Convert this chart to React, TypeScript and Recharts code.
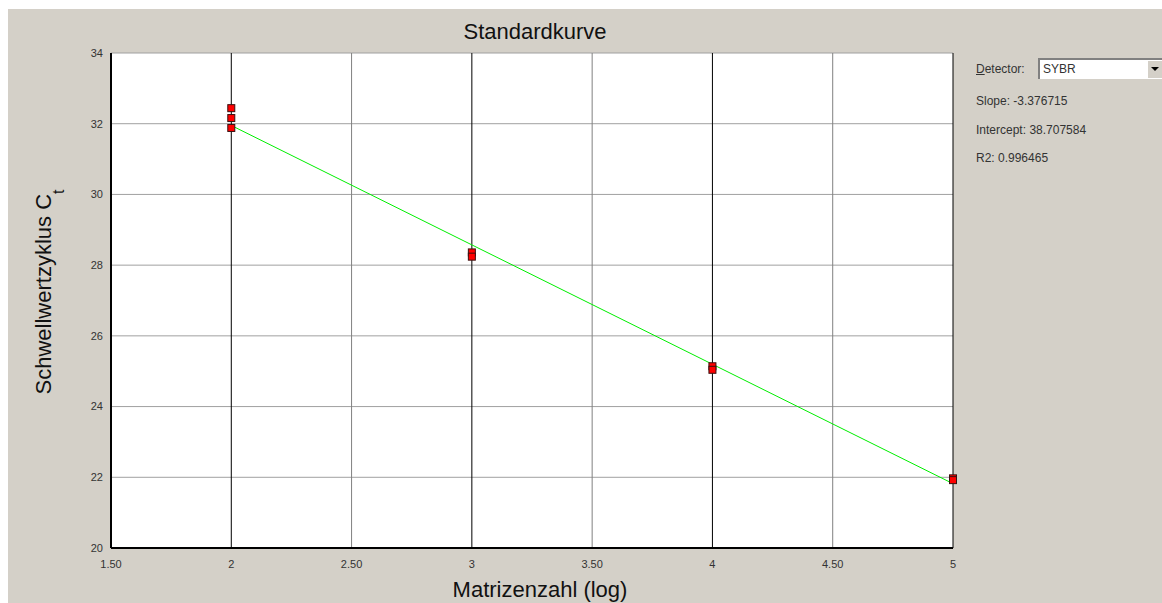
import React from "react";
import {
  ComposedChart,
  Scatter,
  XAxis,
  YAxis,
  CartesianGrid,
  ReferenceLine,
} from "recharts";

// x-axis: log of template count, y-axis: threshold cycle
const xTicks = [1.5, 2, 2.5, 3, 3.5, 4, 4.5, 5];
const xTickLabels = ["1.50", "2", "2.50", "3", "3.50", "4", "4.50", "5"];
const yTicks = [20, 22, 24, 26, 28, 30, 32, 34];
const majorGridX = [2, 3, 4, 5];
const minorGridX = [2.5, 3.5, 4.5];

// standards (replicates)
const standardLog = [2, 2, 2, 3, 3, 4, 4, 5, 5];
const standardCt = [32.44, 32.16, 31.88, 28.36, 28.24, 25.14, 25.04, 21.97, 21.92];

// regression line end points
const fitLog = [2, 5];
const fitCt = [31.95, 21.82];

const detector = "SYBR";
const slope = "-3.376715";
const intercept = "38.707584";
const r2 = "0.996465";

const FONT = "'Liberation Sans', Arial, sans-serif";

const points = standardLog.map((x, i) => ({ x, y: standardCt[i] }));
const fitLine = fitLog.map((x, i) => ({ x, y: fitCt[i] }));

const SquareMarker = (props: any) => {
  const { cx, cy } = props;
  if (cx == null || cy == null) return <g />;
  return (
    <rect
      x={cx - 3.5}
      y={cy - 3.5}
      width={7}
      height={7}
      fill="#ff0000"
      stroke="#3a1010"
      strokeWidth={1}
    />
  );
};

const YLabel = () => (
  <text
    x={51}
    y={292}
    transform="rotate(-90, 51, 292)"
    textAnchor="middle"
    fontFamily={FONT}
    fontSize={22}
    fill="#111"
  >
    Schwellwertzyklus C
    <tspan dy={13} fontSize={16}>
      t
    </tspan>
  </text>
);

const XLabel = () => (
  <text
    x={540}
    y={597}
    textAnchor="middle"
    fontFamily={FONT}
    fontSize={22}
    fill="#111"
  >
    Matrizenzahl (log)
  </text>
);

const tickStyle = { fontSize: 11, fill: "#333", fontFamily: FONT };

export default function App() {
  return (
    <div
      style={{
        position: "absolute",
        left: 0,
        top: 0,
        width: 1162,
        height: 603,
        background: "#ffffff",
        overflow: "hidden",
        fontFamily: FONT,
      }}
    >
      <div
        style={{
          position: "absolute",
          left: 8,
          top: 9,
          width: 1154,
          height: 594,
          background: "#d4d0c8",
        }}
      />
      <div style={{ position: "absolute", left: 0, top: 0 }}>
        <ComposedChart
          width={1162}
          height={603}
          margin={{ top: 53, right: 209, bottom: 0, left: 0 }}
        >
          <CartesianGrid
            vertical={false}
            stroke="#a0a0a0"
            fill="#ffffff"
            fillOpacity={1}
          />
          <XAxis
            type="number"
            dataKey="x"
            domain={[1.5, 5]}
            ticks={xTicks}
            interval={0}
            height={55}
            tickSize={0}
            tickMargin={12}
            tickLine={false}
            axisLine={{ stroke: "#000", strokeWidth: 2 }}
            tick={tickStyle}
            tickFormatter={(v: number) => xTickLabels[xTicks.indexOf(v)] ?? String(v)}
            label={{ content: <XLabel /> }}
          />
          <YAxis
            type="number"
            dataKey="y"
            domain={[20, 34]}
            ticks={yTicks}
            interval={0}
            width={111}
            tickSize={0}
            tickMargin={8}
            tickLine={false}
            axisLine={{ stroke: "#000", strokeWidth: 2 }}
            tick={tickStyle}
            label={{ content: <YLabel /> }}
          />
          {minorGridX.map((x) => (
            <ReferenceLine key={`m${x}`} x={x} stroke="#808080" strokeWidth={1} />
          ))}
          {majorGridX.map((x) => (
            <ReferenceLine key={`M${x}`} x={x} stroke="#000000" strokeWidth={1} />
          ))}
          <Scatter
            data={fitLine}
            line={{ stroke: "#00ee00", strokeWidth: 1 }}
            shape={() => <g />}
            isAnimationActive={false}
          />
          <Scatter
            data={points}
            shape={SquareMarker}
            isAnimationActive={false}
          />
        </ComposedChart>
      </div>

      {/* title */}
      <div
        style={{
          position: "absolute",
          left: 335,
          width: 400,
          top: 20,
          textAlign: "center",
          fontSize: 22,
          lineHeight: "24px",
          color: "#111",
        }}
      >
        Standardkurve
      </div>

      {/* detector panel */}
      <div
        style={{
          position: "absolute",
          left: 976,
          top: 61,
          fontSize: 12,
          lineHeight: "16px",
          color: "#333",
        }}
      >
        <span style={{ textDecoration: "underline" }}>D</span>etector:
      </div>
      <div
        style={{
          position: "absolute",
          left: 1038,
          top: 58,
          width: 124,
          height: 21,
          boxSizing: "border-box",
          background: "#fff",
          borderTop: "2px solid #808080",
          borderLeft: "2px solid #808080",
          fontSize: 12,
          lineHeight: "18px",
          color: "#333",
          paddingLeft: 3,
        }}
      >
        {detector}
        <div
          style={{
            position: "absolute",
            right: 0,
            top: 1,
            width: 14,
            height: 17,
            background: "#d4d0c8",
            borderLeft: "1px solid #fff",
          }}
        >
          <div
            style={{
              position: "absolute",
              left: 3,
              top: 6,
              width: 0,
              height: 0,
              borderLeft: "4px solid transparent",
              borderRight: "4px solid transparent",
              borderTop: "4px solid #000",
            }}
          />
        </div>
      </div>
      <div
        style={{
          position: "absolute",
          left: 976,
          top: 93,
          fontSize: 12,
          lineHeight: "16px",
          color: "#333",
          whiteSpace: "nowrap",
        }}
      >
        Slope: {slope}
      </div>
      <div
        style={{
          position: "absolute",
          left: 976,
          top: 122,
          fontSize: 12,
          lineHeight: "16px",
          color: "#333",
          whiteSpace: "nowrap",
        }}
      >
        Intercept: {intercept}
      </div>
      <div
        style={{
          position: "absolute",
          left: 976,
          top: 150,
          fontSize: 12,
          lineHeight: "16px",
          color: "#333",
          whiteSpace: "nowrap",
        }}
      >
        R2: {r2}
      </div>
    </div>
  );
}
